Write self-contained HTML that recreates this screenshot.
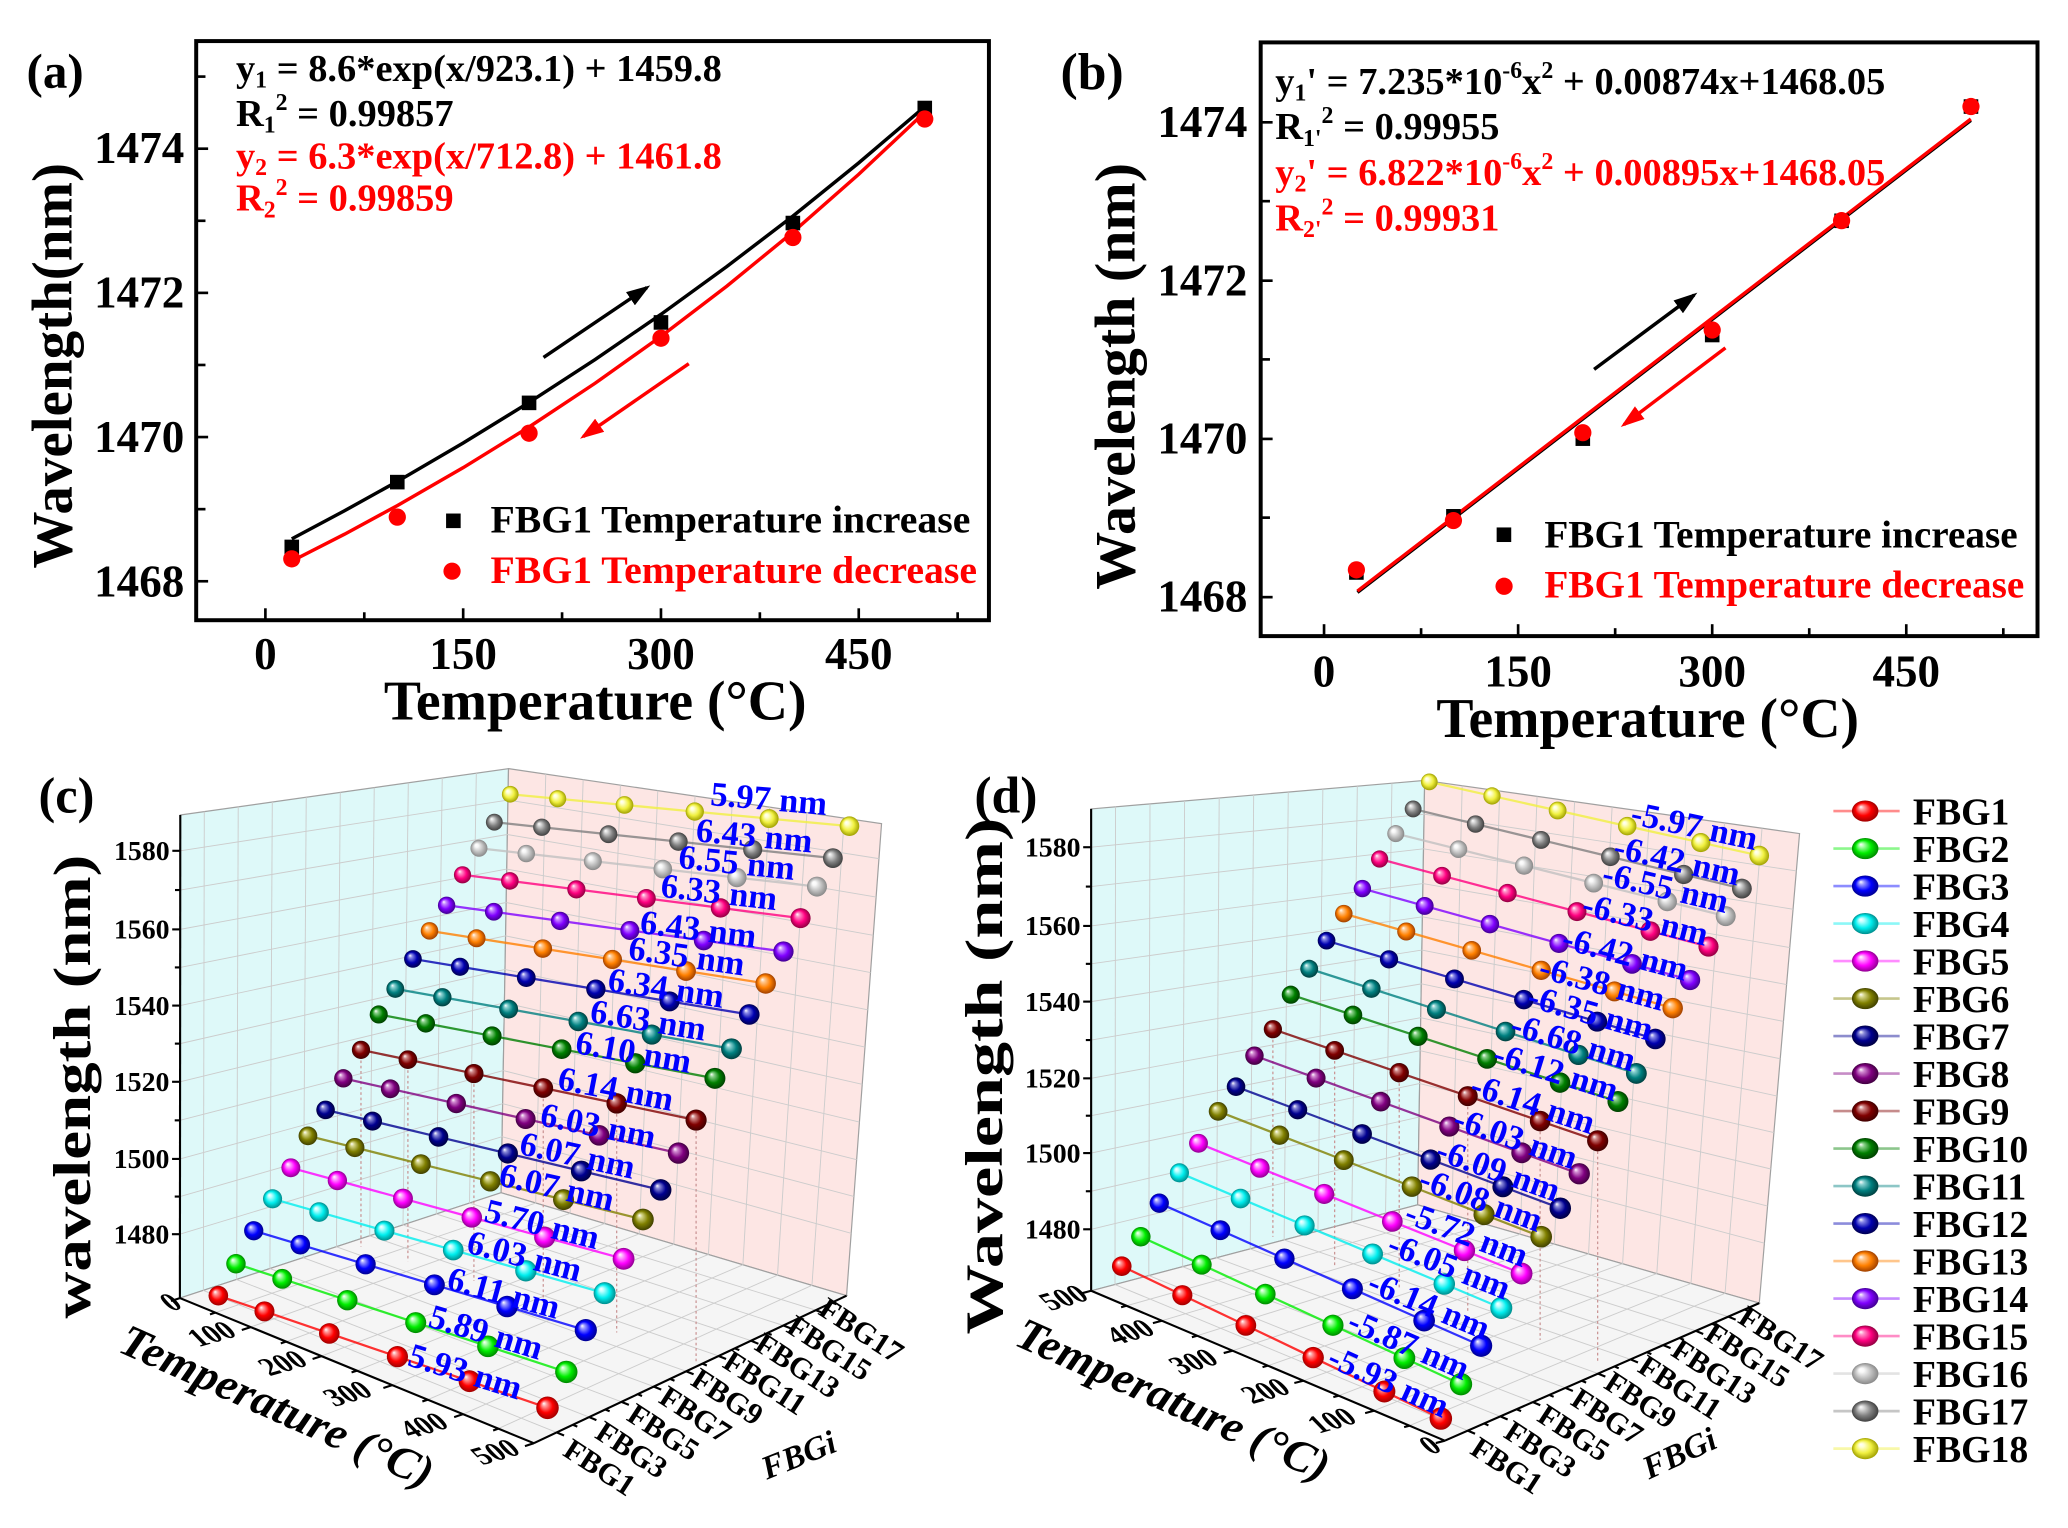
<!DOCTYPE html>
<html><head><meta charset="utf-8">
<style>
html,body{margin:0;padding:0;background:#fff;}
svg{display:block;}
text{font-family:"Liberation Serif","Times New Roman",serif;font-weight:bold;}
</style></head>
<body>
<svg id="s" width="2068" height="1528" viewBox="0 0 1560 1153" preserveAspectRatio="none" xmlns="http://www.w3.org/2000/svg">
<defs>
<marker id="ak" markerWidth="18" markerHeight="12" refX="15" refY="6" orient="auto" markerUnits="userSpaceOnUse"><path d="M0,0 L18,6 L0,12 z" fill="#000"/></marker>
<marker id="ar" markerWidth="18" markerHeight="12" refX="15" refY="6" orient="auto" markerUnits="userSpaceOnUse"><path d="M0,0 L18,6 L0,12 z" fill="#ff0000"/></marker>
</defs>
<rect x="0" y="0" width="1560" height="1153" fill="#fff"/>

<!-- ================= Panel (a) ================= -->
<text x="20" y="66" font-size="37">(a)</text>
<rect x="148" y="31" width="598" height="437" fill="none" stroke="#000" stroke-width="3"/>
<g stroke="#000" stroke-width="2">
<line x1="200.2" y1="468" x2="200.2" y2="459"/><line x1="349.4" y1="468" x2="349.4" y2="459"/><line x1="498.6" y1="468" x2="498.6" y2="459"/><line x1="647.8" y1="468" x2="647.8" y2="459"/>
<line x1="274.8" y1="468" x2="274.8" y2="462"/><line x1="424" y1="468" x2="424" y2="462"/><line x1="573.2" y1="468" x2="573.2" y2="462"/><line x1="722.4" y1="468" x2="722.4" y2="462"/>
<line x1="148" y1="112.2" x2="157" y2="112.2"/><line x1="148" y1="221" x2="157" y2="221"/><line x1="148" y1="329.8" x2="157" y2="329.8"/><line x1="148" y1="438.6" x2="157" y2="438.6"/>
<line x1="148" y1="57.8" x2="155" y2="57.8"/><line x1="148" y1="166.6" x2="155" y2="166.6"/><line x1="148" y1="275.4" x2="155" y2="275.4"/><line x1="148" y1="384.2" x2="155" y2="384.2"/>
</g>
<g font-size="34" text-anchor="end">
<text x="139" y="123">1474</text><text x="139" y="232">1472</text><text x="139" y="341">1470</text><text x="139" y="450">1468</text>
</g>
<g font-size="34" text-anchor="middle">
<text x="200.2" y="505">0</text><text x="349.4" y="505">150</text><text x="498.6" y="505">300</text><text x="647.8" y="505">450</text>
</g>
<text x="449" y="543" font-size="42" text-anchor="middle">Temperature (°C)</text>
<text transform="translate(54,276) rotate(-90)" font-size="43" text-anchor="middle" textLength="306" lengthAdjust="spacingAndGlyphs">Wavelength(nm)</text>
<g font-size="29">
<text x="178" y="61">y<tspan font-size="18" dy="5">1</tspan><tspan dy="-5"> = 8.6*exp(x/923.1) + 1459.8</tspan></text>
<text x="178" y="95">R<tspan font-size="18" dy="5">1</tspan><tspan font-size="18" dy="-17">2</tspan><tspan dy="12"> = 0.99857</tspan></text>
<text x="178" y="127" fill="#ff0000">y<tspan font-size="18" dy="5">2</tspan><tspan dy="-5"> = 6.3*exp(x/712.8) + 1461.8</tspan></text>
<text x="178" y="159" fill="#ff0000">R<tspan font-size="18" dy="5">2</tspan><tspan font-size="18" dy="-17">2</tspan><tspan dy="12"> = 0.99859</tspan></text>
</g>
<polyline fill="none" stroke="#000" stroke-width="2.6" points="220.1,406.6 259.9,385.4 299.7,363.3 349.4,334.3 399.1,303.7 448.9,271.3 498.6,237.2 548.3,201.1 598.1,163.1 647.8,122.9 697.6,80.5"/>
<polyline fill="none" stroke="#ff0000" stroke-width="2.6" points="220.1,423.4 259.9,403.1 299.7,381.5 349.4,352.9 399.1,322.2 448.9,289.2 498.6,253.8 548.3,215.9 598.1,175.2 647.8,131.5 697.6,84.7"/>
<g fill="#000">
<rect x="214.6" y="407.2" width="11" height="11"/><rect x="294.2" y="358.3" width="11" height="11"/><rect x="393.6" y="298.5" width="11" height="11"/><rect x="493.1" y="237.8" width="11" height="11"/><rect x="592.6" y="162.8" width="11" height="11"/><rect x="692.1" y="76" width="11" height="11"/>
</g>
<g fill="#ff0000">
<circle cx="220.1" cy="421.7" r="6.5"/><circle cx="299.7" cy="390.2" r="6.5"/><circle cx="399.1" cy="326.9" r="6.5"/><circle cx="498.6" cy="255.2" r="6.5"/><circle cx="598.1" cy="179.2" r="6.5"/><circle cx="697.6" cy="89.8" r="6.5"/>
</g>
<line x1="410" y1="269.7" x2="488" y2="217" stroke="#000" stroke-width="2.6" marker-end="url(#ak)"/>
<line x1="519.6" y1="274.4" x2="440" y2="329.4" stroke="#ff0000" stroke-width="2.6" marker-end="url(#ar)"/>
<rect x="336.5" y="387.5" width="11" height="11" fill="#000"/>
<text x="370" y="402" font-size="29.5" textLength="362" lengthAdjust="spacingAndGlyphs">FBG1 Temperature increase</text>
<circle cx="341" cy="431" r="6.5" fill="#ff0000"/>
<text x="370" y="440" font-size="29.5" fill="#ff0000" textLength="367" lengthAdjust="spacingAndGlyphs">FBG1 Temperature decrease</text>

<!-- ================= Panel (b) ================= -->
<text x="800" y="67" font-size="39">(b)</text>
<rect x="951" y="32" width="586" height="448" fill="none" stroke="#000" stroke-width="3"/>
<g stroke="#000" stroke-width="2">
<line x1="998.8" y1="480" x2="998.8" y2="471"/><line x1="1145.2" y1="480" x2="1145.2" y2="471"/><line x1="1291.6" y1="480" x2="1291.6" y2="471"/><line x1="1438" y1="480" x2="1438" y2="471"/>
<line x1="1072" y1="480" x2="1072" y2="474"/><line x1="1218.4" y1="480" x2="1218.4" y2="474"/><line x1="1364.8" y1="480" x2="1364.8" y2="474"/><line x1="1511.2" y1="480" x2="1511.2" y2="474"/>
<line x1="951" y1="92.3" x2="960" y2="92.3"/><line x1="951" y1="211.8" x2="960" y2="211.8"/><line x1="951" y1="331.2" x2="960" y2="331.2"/><line x1="951" y1="450.6" x2="960" y2="450.6"/>
<line x1="951" y1="151.8" x2="958" y2="151.8"/><line x1="951" y1="271.2" x2="958" y2="271.2"/><line x1="951" y1="390.6" x2="958" y2="390.6"/>
</g>
<g font-size="34" text-anchor="end">
<text x="941" y="103.3">1474</text><text x="941" y="222.8">1472</text><text x="941" y="342.2">1470</text><text x="941" y="461.6">1468</text>
</g>
<g font-size="34" text-anchor="middle">
<text x="998.8" y="518">0</text><text x="1145.2" y="518">150</text><text x="1291.6" y="518">300</text><text x="1438" y="518">450</text>
</g>
<text x="1243" y="556" font-size="42" text-anchor="middle">Temperature (°C)</text>
<text transform="translate(856,284) rotate(-90)" font-size="43" text-anchor="middle" textLength="322" lengthAdjust="spacingAndGlyphs">Wavelength (nm)</text>
<g font-size="29">
<text x="962" y="71">y<tspan font-size="18" dy="5">1</tspan><tspan dy="-5">' = 7.235*10</tspan><tspan font-size="18" dy="-12">-6</tspan><tspan dy="12">x</tspan><tspan font-size="18" dy="-12">2</tspan><tspan dy="12"> + 0.00874x+1468.05</tspan></text>
<text x="962" y="105">R<tspan font-size="18" dy="5">1'</tspan><tspan font-size="18" dy="-17">2</tspan><tspan dy="12"> = 0.99955</tspan></text>
<text x="962" y="139.5" fill="#ff0000">y<tspan font-size="18" dy="5">2</tspan><tspan dy="-5">' = 6.822*10</tspan><tspan font-size="18" dy="-12">-6</tspan><tspan dy="12">x</tspan><tspan font-size="18" dy="-12">2</tspan><tspan dy="12"> + 0.00895x+1468.05</tspan></text>
<text x="962" y="174" fill="#ff0000">R<tspan font-size="18" dy="5">2'</tspan><tspan font-size="18" dy="-17">2</tspan><tspan dy="12"> = 0.99931</tspan></text>
</g>
<line x1="1024" y1="447" x2="1486.7" y2="90.8" stroke="#000" stroke-width="2.6"/>
<line x1="1024" y1="446" x2="1486.7" y2="89.8" stroke="#ff0000" stroke-width="2.6"/>
<g fill="#000">
<rect x="1017.7" y="426.5" width="11" height="11"/><rect x="1090.9" y="384.1" width="11" height="11"/><rect x="1188.5" y="325.5" width="11" height="11"/><rect x="1286.1" y="247.3" width="11" height="11"/><rect x="1383.7" y="161.1" width="11" height="11"/><rect x="1481.3" y="74.9" width="11" height="11"/>
</g>
<g fill="#ff0000">
<circle cx="1023.2" cy="430" r="6.5"/><circle cx="1096.4" cy="392.8" r="6.5"/><circle cx="1194" cy="326.5" r="6.5"/><circle cx="1291.6" cy="249" r="6.5"/><circle cx="1389.2" cy="166.5" r="6.5"/><circle cx="1486.8" cy="80.4" r="6.5"/>
</g>
<line x1="1202.5" y1="278.7" x2="1278" y2="222.6" stroke="#000" stroke-width="2.6" marker-end="url(#ak)"/>
<line x1="1301.6" y1="262.5" x2="1225" y2="320.4" stroke="#ff0000" stroke-width="2.6" marker-end="url(#ar)"/>
<rect x="1129" y="398" width="11" height="11" fill="#000"/>
<text x="1165" y="413" font-size="29.5" textLength="357" lengthAdjust="spacingAndGlyphs">FBG1 Temperature increase</text>
<circle cx="1134.6" cy="442.4" r="6.5" fill="#ff0000"/>
<text x="1165" y="451" font-size="29.5" fill="#ff0000" textLength="362" lengthAdjust="spacingAndGlyphs">FBG1 Temperature decrease</text>

<!-- panel labels c, d -->
<text x="29" y="613" font-size="38">(c)</text>
<text x="735" y="613" font-size="39">(d)</text>

<g id="c3"></g>
<g id="d3"></g>
<g id="leg"></g>
</svg>

<script>
(function(){
var NS='http://www.w3.org/2000/svg';
var svg=document.getElementById('s');
function E(p,tag,a,txt){var e=document.createElementNS(NS,tag);for(var k in a)e.setAttribute(k,a[k]);if(txt!=null)e.textContent=txt;p.appendChild(e);return e;}
var base=['#ff0000','#00ee00','#0000ff','#00eeee','#ff00ff','#808000','#000090','#800080','#800000','#008000','#008080','#0000b0','#ff8000','#8000ff','#ff0080','#c0c0c0','#808080','#f0f040'];
var lite=['#ff9a9a','#a8ffa8','#9a9aff','#b8ffff','#ffa8ff','#d4d488','#8888d8','#d088d0','#d08888','#88d088','#88d0d0','#8888e8','#ffc890','#c890ff','#ff90c8','#f8f8f8','#d8d8d8','#ffffd0'];
var dark=['#a00000','#008800','#000090','#008c8c','#900090','#404000','#000040','#400040','#400000','#004000','#004040','#000050','#a04000','#400090','#900040','#888888','#404040','#a0a000'];
var defs=svg.querySelector('defs');
for(var i=0;i<18;i++){
 var g=E(defs,'radialGradient',{id:'g'+i,cx:'50%',cy:'50%',r:'50%',fx:'33%',fy:'30%'});
 E(g,'stop',{offset:'0','stop-color':'#ffffff'});
 E(g,'stop',{offset:'0.2','stop-color':lite[i]});
 E(g,'stop',{offset:'0.6','stop-color':base[i]});
 E(g,'stop',{offset:'1','stop-color':dark[i]});
}
function L(a,b,t){return [a[0]+(b[0]-a[0])*t,a[1]+(b[1]-a[1])*t];}
function P(a){return a.map(function(p){return p[0].toFixed(1)+','+p[1].toFixed(1);}).join(' ');}
function line(p,a,b,st){var o={x1:a[0].toFixed(1),y1:a[1].toFixed(1),x2:b[0].toFixed(1),y2:b[1].toFixed(1)};for(var k in st)o[k]=st[k];return E(p,'line',o);}
function norm(v,l){var h=Math.hypot(v[0],v[1]);return [v[0]/h*l,v[1]/h*l];}

function panel(c){
 var g=document.getElementById(c.id);
 E(g,'polygon',{points:P([c.Lt,c.Bt,c.Bb,c.Lb]),fill:'#def9f9',stroke:'#a0a0a0','stroke-width':0.9});
 E(g,'polygon',{points:P([c.Bt,c.Rt,c.Rb,c.Bb]),fill:'#fde6e4',stroke:'#a0a0a0','stroke-width':0.9});
 E(g,'polygon',{points:P([c.Lb,c.Bb,c.Rb,c.F]),fill:'#f5f5f5',stroke:'#a0a0a0','stroke-width':0.9});
 var gs={stroke:'#cccccc','stroke-width':0.7};
 var H=c.Lb[1]-c.Lt[1];
 var levels=[];
 c.zt.forEach(function(z){levels.push(z[1]);});
 for(var q=0;q<c.zt.length-1;q++)levels.push((c.zt[q][1]+c.zt[q+1][1])/2);
 levels.forEach(function(y){var fr=(c.Lb[1]-y)/H;var pL=L(c.Lb,c.Lt,fr),pB=L(c.Bb,c.Bt,fr),pR=L(c.Rb,c.Rt,fr);line(g,pL,pB,gs);line(g,pB,pR,gs);});
 for(var k=1;k<=17;k+=2){var s=0.073+(k-1)*0.0518;var a=L(c.Lb,c.Bb,s),b=L(c.Lt,c.Bt,s),d=L(c.F,c.Rb,s);line(g,a,b,gs);line(g,a,d,gs);}
 for(var j=1;j<10;j++){var t=j/10;var a2=L(c.Lb,c.F,t),b2=L(c.Bb,c.Rb,t),d2=L(c.Bt,c.Rt,t);line(g,a2,b2,gs);line(g,b2,d2,gs);}
 var ax={stroke:'#000','stroke-width':1.6};
 line(g,c.Lt,c.Lb,ax);line(g,c.Lb,c.F,ax);line(g,c.F,c.Rb,ax);
 c.zt.forEach(function(z){var fr=(c.Lb[1]-z[1])/H;var p=L(c.Lb,c.Lt,fr);line(g,p,[p[0]-6,p[1]],ax);
   E(g,'text',{x:(p[0]-8).toFixed(1),y:(p[1]+7).toFixed(1),'text-anchor':'end','font-size':21},z[0]);});
 for(var q2=0;q2<c.zt.length-1;q2++){var ym=(c.zt[q2][1]+c.zt[q2+1][1])/2;var frm=(c.Lb[1]-ym)/H;var pm=L(c.Lb,c.Lt,frm);line(g,pm,[pm[0]-4,pm[1]],ax);}
 var tu=norm([c.Lb[0]-c.Bb[0],c.Lb[1]-c.Bb[1]],7);
 for(var j2=0;j2<=10;j2++){var p2=L(c.Lb,c.F,j2/10);var ll=(j2%2==0)?1:0.6;line(g,p2,[p2[0]+tu[0]*ll,p2[1]+tu[1]*ll],ax);}
 c.tl.forEach(function(t){E(g,'text',{'font-size':21,'text-anchor':'middle','dominant-baseline':'central',transform:'translate('+t[1]+','+t[2]+') rotate(-16) skewX(28)'},t[0]);});
 var fu=norm([c.F[0]-c.Lb[0],c.F[1]-c.Lb[1]],6);
 for(var k2=1;k2<=18;k2++){var s2=0.073+(k2-1)*0.0518;var p3=L(c.F,c.Rb,s2);var l2=(k2%2==1)?1:0.6;line(g,p3,[p3[0]+fu[0]*l2,p3[1]+fu[1]*l2],ax);}
 for(var m=0;m<9;m++){var ps=L(c.f1,c.f17,m/8);E(g,'text',{x:0,y:0,'font-size':23,'dominant-baseline':'central',transform:'translate('+ps[0].toFixed(1)+','+ps[1].toFixed(1)+') rotate('+c.fa+')'},'FBG'+(2*m+1));}
 E(g,'text',{'font-size':25,'font-style':'italic','text-anchor':'middle','dominant-baseline':'central',transform:'translate('+c.fi[0]+','+c.fi[1]+') rotate('+c.fi[2]+')'},'FBGi');
 E(g,'text',{'font-size':34,'font-style':'italic','text-anchor':'middle','dominant-baseline':'central',textLength:255,lengthAdjust:'spacingAndGlyphs',transform:'translate('+c.tt[0]+','+c.tt[1]+') rotate('+c.tt[2]+')'},'Temperature (°C)');
 E(g,'text',{'font-size':40,'text-anchor':'middle',textLength:c.zl[3],lengthAdjust:'spacingAndGlyphs',transform:'translate('+c.zl[0]+','+c.zl[1]+') rotate(-90)'},c.zl[2]);
 var r9s=c.rs[8],r9e=c.re[8];
 c.fr.forEach(function(f,i){var p=L(r9s,r9e,f);line(g,p,[p[0],c.db[i]],{stroke:'#c89090','stroke-width':0.9,'stroke-dasharray':'2,2'});});
 for(var r=17;r>=0;r--){
  var S=c.rs[r],En=c.re[r];
  var pts=c.fr.map(function(f){return L(S,En,f);});
  E(g,'polyline',{points:P(pts),fill:'none',stroke:base[r],'stroke-width':1.7,'stroke-opacity':0.8});
  pts.forEach(function(p,i){var front=0.5*(1-r/17)+0.5*c.fr[i];var rad=6.3+2.2*front;
   E(g,'circle',{cx:p[0].toFixed(1),cy:p[1].toFixed(1),r:rad.toFixed(2),fill:'url(#g'+r+')'});});
 }
 c.lab.forEach(function(l,i){var r=17-i;var S=c.rs[r],En=c.re[r];var ang=Math.atan2(En[1]-S[1],En[0]-S[0])*180/Math.PI*c.af;
  var cx=l[1]+c.hw,cy=l[2];
  E(g,'text',{x:0,y:0,'font-size':26,fill:'#0000ff','text-anchor':'middle','dominant-baseline':'central',transform:'translate('+cx.toFixed(1)+','+cy.toFixed(1)+') rotate('+ang.toFixed(1)+')'},l[0]);});
}

var cfgC={id:'c3',
 Lt:[136,615],Bt:[383.6,580],Rt:[665,621.5],Rb:[638.6,977.7],F:[402.7,1089],Lb:[135.7,979.5],Bb:[378,900],
 zt:[['1480',931.3],['1500',874.5],['1520',816.3],['1540',758.8],['1560',701.3],['1580',642]],
 tl:[['0',129,983],['100',160,1007],['200',213.6,1029],['300',262.6,1052],['400',320,1076],['500',374,1096]],
 rs:[[164.7,977.7],[178,953.6],[191.4,928.7],[205.6,904.6],[219.4,881.2],[232.3,857.1],[245.6,837.5],[259,813.7],[272.3,792.2],[285.7,765.5],[298.2,746.2],[311.5,723.6],[324,702.4],[336.9,683.1],[348.9,660.1],[361.3,640.1],[372.9,620.4],[384.9,599.3]],
 re:[[413,1062.3],[427.2,1035.2],[441.9,1003.7],[456.1,975.8],[470.4,949.9],[485,920.2],[498.4,897.9],[511.8,870.1],[525.1,845.2],[539.3,813.7],[551.8,791.4],[565.2,765.5],[577.6,742.1],[591,718],[603.9,692.8],[616.3,669],[628.3,647.5],[640.8,623.4]],
 fr:[0,0.14,0.337,0.544,0.763,1],
 db:[940.6,951.7,966.6,985,1005.5,1027.8],
 lab:[['5.97 nm',536,603],['6.43 nm',525,630.8],['6.55 nm',511.8,651.2],['6.33 nm',498.4,673.5],['6.43 nm',482.8,701.3],['6.35 nm',474,721.7],['6.34 nm',458.4,745.8],['6.63 nm',445,770],['6.10 nm',433.9,794],['6.14 nm',420.5,821.9],['6.03 nm',407.2,849.7],['6.07 nm',391.6,872],['6.07 nm',376,896],['5.70 nm',364.9,924],['6.03 nm',351.6,948],['6.11 nm',336,975.8],['5.89 nm',322.6,1005.5],['5.93 nm',307,1035.2]],
 hw:44, af:0.92,
 f1:[427.7,1091.3], f17:[620.3,984.8], fa:33,
 fi:[602.6,1098.3,-22],
 tt:[209,1061,24],
 zl:[68,820,'wavelength (nm)',350]
};
var cfgD={id:'d3',
 Lt:[823.1,610.4],Bt:[1074.7,588.9],Rt:[1357.5,629],Rb:[1327.1,983.3],F:[1089.9,1087.1],Lb:[823.1,974],Bb:[1069.4,909.1],
 zt:[['1480',927.6],['1500',870.1],['1520',813.7],['1540',755.8],['1560',698.7],['1580',639.3]],
 tl:[['500',802.7,979.6],['400',852.7,1005.5],['300',900.6,1027.8],['200',955,1050],['100',1005,1072.3],['0',1079,1091]],
 rs:[[846.2,955.4],[860.6,933.2],[874.5,907.9],[889.7,885],[904.1,862.7],[918.9,838.6],[932.4,820],[946.3,796.6],[960.2,776.6],[973.7,750.6],[987.6,731],[1000.7,709.8],[1013.7,689.4],[1027.7,670.5],[1040.7,648.2],[1052.9,629],[1066,610.4],[1078.2,590]],
 re:[[1086.9,1070.4],[1102.1,1044.5],[1117.3,1015.5],[1132.5,987],[1147.8,961],[1162.6,933.2],[1177,911.7],[1191.3,885.7],[1205.2,860.8],[1220.5,831.2],[1234.4,810],[1248.7,784],[1261.8,760.7],[1274.9,739.5],[1288.8,714.3],[1301.8,691.3],[1314,670.5],[1327.1,645.6]],
 fr:[0,0.19,0.389,0.6,0.823,1],
 db:[933.2,955.4,972.2,990,1011,1027.8],
 lab:[['-5.97 nm',1229.2,623.4],['-6.42 nm',1216.1,649.4],['-6.55 nm',1207.4,669.8],['-6.33 nm',1192.2,693.9],['-6.42 nm',1177,719.8],['-6.38 nm',1159.5,742.1],['-6.35 nm',1150.8,764.4],['-6.68 nm',1137.8,786.6],['-6.12 nm',1124.7,808.9],['-6.14 nm',1107.3,833],['-6.03 nm',1094.3,859],['-6.09 nm',1081.2,883.1],['-6.08 nm',1068.1,905.3],['-5.72 nm',1057.3,931.3],['-6.05 nm',1044.2,955.4],['-6.14 nm',1029,985],['-5.87 nm',1013.7,1014.8],['-5.93 nm',998.5,1042.6]],
 hw:49, af:0.95,
 f1:[1112,1090], f17:[1314,991], fa:33,
 fi:[1267,1097,-25],
 tt:[885,1056,24],
 zl:[756,812,'Wavelength (nm)',390]
};
panel(cfgC);
panel(cfgD);

var lg=document.getElementById('leg');
for(var k=0;k<18;k++){
 var y=612+28.3*k;
 E(lg,'line',{x1:1383,y1:y,x2:1433,y2:y,stroke:base[k],'stroke-width':2,'stroke-opacity':0.45});
 E(lg,'ellipse',{cx:1407,cy:y,rx:10,ry:8,fill:'url(#g'+k+')'});
 E(lg,'text',{x:1443,y:(y+10).toFixed(1),'font-size':28.5},'FBG'+(k+1));
}
})();
</script>
</body></html>
